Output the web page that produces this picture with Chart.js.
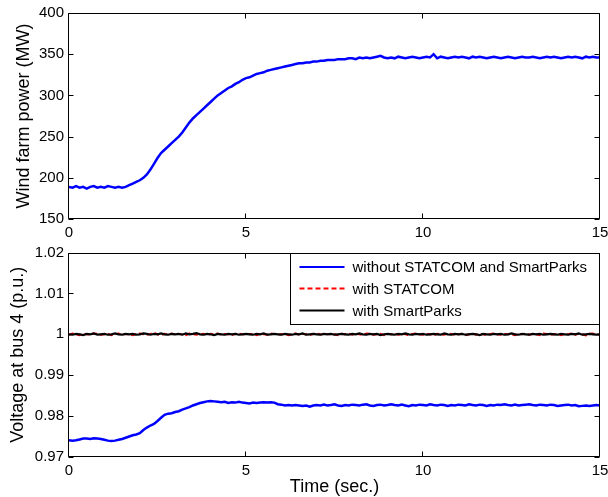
<!DOCTYPE html>
<html><head><meta charset="utf-8">
<script src="https://cdn.jsdelivr.net/npm/chart.js@4/dist/chart.umd.min.js"></script>
<style>
html,body{margin:0;padding:0;background:#fff;width:608px;height:497px;overflow:hidden}
#c1{position:absolute;left:0;top:0}
#c2{position:absolute;left:0;top:240px}
</style></head><body>
<canvas id="c1" width="608" height="240"></canvas>
<canvas id="c2" width="608" height="257"></canvas>
<script>
// ---- data (sampled every 0.1 s, t = 0 .. 15 s) ----
const timeStep = 0.1;
const xTicks = [0, 5, 10, 15];
const powerTicks = [150, 200, 250, 300, 350, 400];
const voltTicks = [0.97, 0.98, 0.99, 1, 1.01, 1.02];

const windFarmPowerMW = [
189,188,190,188,189,187,189,190,188,189,
188,190,189,188,189,188,189,191,193,195,
197,200,204,210,217,224,230,234,238,242,
246,250,255,261,267,272,276,280,284,288,
292,296,300,303,306,309,311,314,316,319,
321,322,324,326,327,328,330,331,332,333,
334,335,336,337,338,339,339,340,340,341,
341,342,342,343,343,343,344,344,344,345,
345,344,346,345,346,345,346,347,348,346,
345,346,345,347,346,345,346,347,346,345,
346,347,346,350,345,347,346,345,346,347,
346,347,346,345,347,346,347,346,345,346,
347,346,345,346,347,346,345,346,347,346,
346,347,346,345,346,347,346,347,346,345,
346,347,346,347,346,345,347,346,347,346,
346];

const voltWithout = [
0.9741,0.9740,0.9741,0.9743,0.9745,0.9745,0.9744,0.9746,0.9745,0.9744,
0.9742,0.9740,0.9739,0.9740,0.9742,0.9744,0.9747,0.9750,0.9753,0.9755,
0.9758,0.9766,0.9772,0.9777,0.9781,0.9788,0.9796,0.9803,0.9806,0.9807,
0.9810,0.9812,0.9816,0.9819,0.9822,0.9826,0.9829,0.9832,0.9834,0.9836,
0.9837,0.9836,0.9835,0.9834,0.9835,0.9832,0.9834,0.9833,0.9835,0.9833,
0.9832,0.9831,0.9833,0.9832,0.9833,0.9834,0.9833,0.9834,0.9833,0.9829,
0.9828,0.9826,0.9827,0.9826,0.9827,0.9826,0.9825,0.9826,0.9823,0.9826,
0.9827,0.9826,0.9828,0.9826,0.9827,0.9829,0.9826,0.9825,0.9827,0.9826,
0.9828,0.9827,0.9826,0.9828,0.9829,0.9826,0.9825,0.9827,0.9828,0.9826,
0.9827,0.9829,0.9827,0.9826,0.9828,0.9826,0.9824,0.9827,0.9826,0.9828,
0.9827,0.9826,0.9829,0.9827,0.9826,0.9828,0.9827,0.9825,0.9827,0.9826,
0.9828,0.9827,0.9826,0.9829,0.9827,0.9826,0.9828,0.9827,0.9825,0.9827,
0.9826,0.9828,0.9827,0.9829,0.9827,0.9826,0.9828,0.9826,0.9827,0.9828,
0.9829,0.9827,0.9826,0.9828,0.9827,0.9826,0.9828,0.9827,0.9825,0.9826,
0.9827,0.9828,0.9826,0.9827,0.9824,0.9825,0.9826,0.9825,0.9826,0.9827,
0.9826];

const voltStatcom = [
0.9999,1.0002,1.0000,0.9998,1.0001,1.0000,0.9999,1.0002,1.0001,0.9999,
1.0000,1.0001,0.9998,1.0000,1.0002,0.9999,1.0001,1.0000,0.9998,1.0001,
1.0002,1.0000,0.9999,1.0001,1.0004,1.0000,0.9998,1.0001,1.0000,1.0002,
0.9999,1.0001,1.0000,0.9998,1.0002,1.0001,0.9999,1.0000,1.0001,0.9998,
1.0001,1.0000,1.0002,0.9999,1.0001,1.0000,0.9998,1.0001,1.0002,1.0000,
0.9999,1.0001,1.0000,0.9998,1.0001,1.0000,0.9999,1.0002,1.0001,0.9999,
1.0000,1.0001,0.9998,1.0000,1.0002,0.9999,1.0001,1.0000,0.9998,1.0001,
1.0002,1.0000,0.9999,1.0001,1.0000,1.0000,0.9998,1.0001,1.0000,1.0002,
0.9999,1.0001,1.0000,0.9998,1.0002,1.0001,0.9999,1.0000,1.0001,0.9998,
1.0001,1.0000,1.0002,0.9999,1.0001,1.0000,0.9998,1.0001,1.0002,1.0000,
0.9999,1.0001,1.0000,0.9997,1.0001,1.0000,0.9999,1.0002,1.0001,0.9999,
1.0000,1.0001,0.9998,1.0000,1.0002,0.9999,1.0001,1.0000,0.9998,1.0001,
1.0002,1.0000,0.9999,1.0001,1.0000,1.0000,0.9998,1.0001,1.0000,1.0002,
0.9999,1.0001,1.0000,0.9998,1.0002,1.0001,0.9999,1.0000,1.0001,0.9998,
1.0001,1.0000,1.0002,0.9999,1.0001,1.0000,0.9997,1.0001,1.0002,1.0000,
0.9999];

const voltSmartParks = [
1.0000,0.9999,1.0001,1.0000,0.9998,1.0001,1.0000,1.0002,0.9999,1.0000,
1.0001,0.9999,1.0000,1.0002,1.0000,0.9999,1.0001,1.0000,1.0001,0.9999,
1.0000,1.0002,1.0001,0.9999,1.0001,1.0000,1.0002,1.0000,0.9999,1.0001,
1.0000,1.0001,0.9999,1.0002,1.0000,1.0001,1.0003,1.0000,0.9999,1.0001,
1.0000,0.9998,1.0001,1.0000,0.9999,1.0001,1.0000,1.0001,0.9999,1.0000,
1.0001,1.0000,0.9999,1.0001,1.0000,1.0002,0.9999,1.0000,1.0001,1.0000,
0.9999,1.0001,1.0000,0.9999,1.0001,1.0000,1.0002,0.9999,1.0000,1.0001,
1.0000,0.9999,1.0001,1.0000,1.0001,0.9999,1.0000,1.0001,1.0000,0.9999,
1.0001,1.0000,1.0002,1.0000,0.9999,1.0001,1.0000,1.0001,0.9998,1.0000,
1.0001,1.0000,0.9999,1.0001,1.0000,1.0002,1.0000,0.9999,1.0001,1.0000,
1.0001,0.9999,1.0000,1.0001,1.0000,0.9999,1.0002,1.0000,0.9999,1.0001,
1.0000,1.0001,0.9999,1.0000,1.0001,1.0000,0.9998,1.0001,1.0000,0.9999,
1.0001,1.0000,1.0001,0.9999,1.0000,1.0002,1.0000,0.9999,1.0001,1.0000,
0.9999,1.0001,1.0000,1.0001,0.9999,1.0000,1.0001,1.0000,0.9999,1.0001,
1.0000,0.9999,1.0001,1.0000,1.0002,0.9999,1.0000,1.0001,1.0000,0.9999,
1.0000];

const seriesLabels = ['without STATCOM and SmartParks', 'with STATCOM', 'with SmartParks'];

// ---- helpers ----
const toXY = arr => arr.map((v, i) => ({ x: Math.round(i * timeStep * 10) / 10, y: v }));
const FONT = '"Liberation Sans", Arial, sans-serif';

const framePlugin = {
  id: 'frame',
  afterDatasetsDraw(chart) {
    const { ctx, chartArea: a, scales } = chart;
    ctx.save();
    ctx.strokeStyle = '#000';
    ctx.lineWidth = 1;
    const L = Math.round(a.left) - 0.5, R = Math.round(a.right) - 0.5;
    const T = Math.round(a.top) + 0.5, B = Math.round(a.bottom) - 0.5;
    ctx.beginPath();
    ctx.rect(L, T, R - L, B - T);
    ctx.stroke();
    const tl = 5;
    ctx.beginPath();
    scales.x.ticks.forEach(t => {
      const px = Math.round(scales.x.getPixelForValue(t.value)) - 0.5;
      ctx.moveTo(px, B); ctx.lineTo(px, B - tl);
      ctx.moveTo(px, T); ctx.lineTo(px, T + tl);
    });
    scales.y.ticks.forEach(t => {
      const py = Math.round(scales.y.getPixelForValue(t.value)) + 0.5;
      ctx.moveTo(L, py); ctx.lineTo(L + tl, py);
      ctx.moveTo(R, py); ctx.lineTo(R - tl, py);
    });
    ctx.stroke();
    ctx.restore();
  }
};

const legendPlugin = {
  id: 'boxLegend',
  afterDraw(chart) {
    const { ctx, chartArea: a } = chart;
    const w = 309, h = 71;
    const R = Math.round(a.right) - 0.5, T = Math.round(a.top) + 0.5;
    const L = R - w;
    ctx.save();
    ctx.fillStyle = '#fff';
    ctx.fillRect(L, T, w, h);
    ctx.strokeStyle = '#000';
    ctx.lineWidth = 1;
    ctx.strokeRect(L, T, w, h);
    const rows = [13.5, 35, 57];
    ctx.font = '15px ' + FONT;
    ctx.textBaseline = 'middle';
    ctx.textAlign = 'left';
    chart.data.datasets.forEach((ds, i) => {
      const y = T + rows[i];
      ctx.beginPath();
      ctx.strokeStyle = ds.borderColor;
      ctx.lineWidth = 2;
      ctx.setLineDash(ds.borderDash || []);
      ctx.moveTo(L + 9, y); ctx.lineTo(L + 54, y);
      ctx.stroke();
      ctx.setLineDash([]);
      ctx.fillStyle = '#000';
      ctx.fillText(ds.label, L + 62, y + 1);
    });
    ctx.restore();
  }
};

function xScale(height, withTitle) {
  return {
    type: 'linear', min: 0, max: 15,
    afterBuildTicks: s => { s.ticks = xTicks.map(v => ({ value: v })); },
    afterFit: s => { s.height = height; s.paddingRight = 0; },
    grid: { display: false, drawTicks: false },
    border: { display: false },
    ticks: { padding: 6, maxRotation: 0, color: '#000', font: { family: FONT, size: 15, lineHeight: 1 },
             callback: v => String(v) },
    title: withTitle ? { display: true, text: 'Time (sec.)', color: '#000',
             font: { family: FONT, size: 18, lineHeight: 1 }, padding: { top: 0, bottom: 1 } } : { display: false }
  };
}
function yScale(min, max, ticks, title, titlePad) {
  return {
    min, max,
    afterBuildTicks: s => { s.ticks = ticks.map(v => ({ value: v })); },
    afterFit: s => { s.width = 69; },
    grid: { display: false, drawTicks: false },
    border: { display: false },
    ticks: { padding: 5, color: '#000', font: { family: FONT, size: 15, lineHeight: 1 },
             callback: v => String(+v.toFixed(2)) },
    title: { display: true, text: title, color: '#000',
             font: { family: FONT, size: 18, lineHeight: 1 }, padding: { top: titlePad, bottom: 0 } }
  };
}
const common = {
  responsive: false, animation: false, devicePixelRatio: 1,
  plugins: { legend: { display: false }, tooltip: { enabled: false } },
  elements: { point: { radius: 0 }, line: { tension: 0 } }
};

new Chart(document.getElementById('c1'), {
  type: 'line',
  data: { datasets: [{ label: 'Wind farm power', data: toXY(windFarmPowerMW),
    borderColor: '#0000ff', borderWidth: 2.5, fill: false }] },
  options: Object.assign({}, common, {
    layout: { padding: { top: 13, right: 8, left: 0, bottom: 0 } },
    scales: { x: xScale(21, false), y: yScale(150, 400, powerTicks, 'Wind farm power (MW)', 15) }
  }),
  plugins: [framePlugin]
});

new Chart(document.getElementById('c2'), {
  type: 'line',
  data: { datasets: [
    { label: seriesLabels[0], data: toXY(voltWithout), borderColor: '#0000ff', borderWidth: 2.5, fill: false, order: 2 },
    { label: seriesLabels[1], data: toXY(voltStatcom), borderColor: '#ff0000', borderWidth: 2, borderDash: [5, 3], fill: false, order: 1 },
    { label: seriesLabels[2], data: toXY(voltSmartParks), borderColor: '#000000', borderWidth: 2.2, fill: false, order: 0 }
  ] },
  options: Object.assign({}, common, {
    layout: { padding: { top: 8, right: 8, left: 0, bottom: 0 } },
    scales: { x: xScale(40, true), y: yScale(0.97, 1.02, voltTicks, 'Voltage at bus 4 (p.u.)', 9) }
  }),
  plugins: [framePlugin, legendPlugin]
});
</script></body></html>
